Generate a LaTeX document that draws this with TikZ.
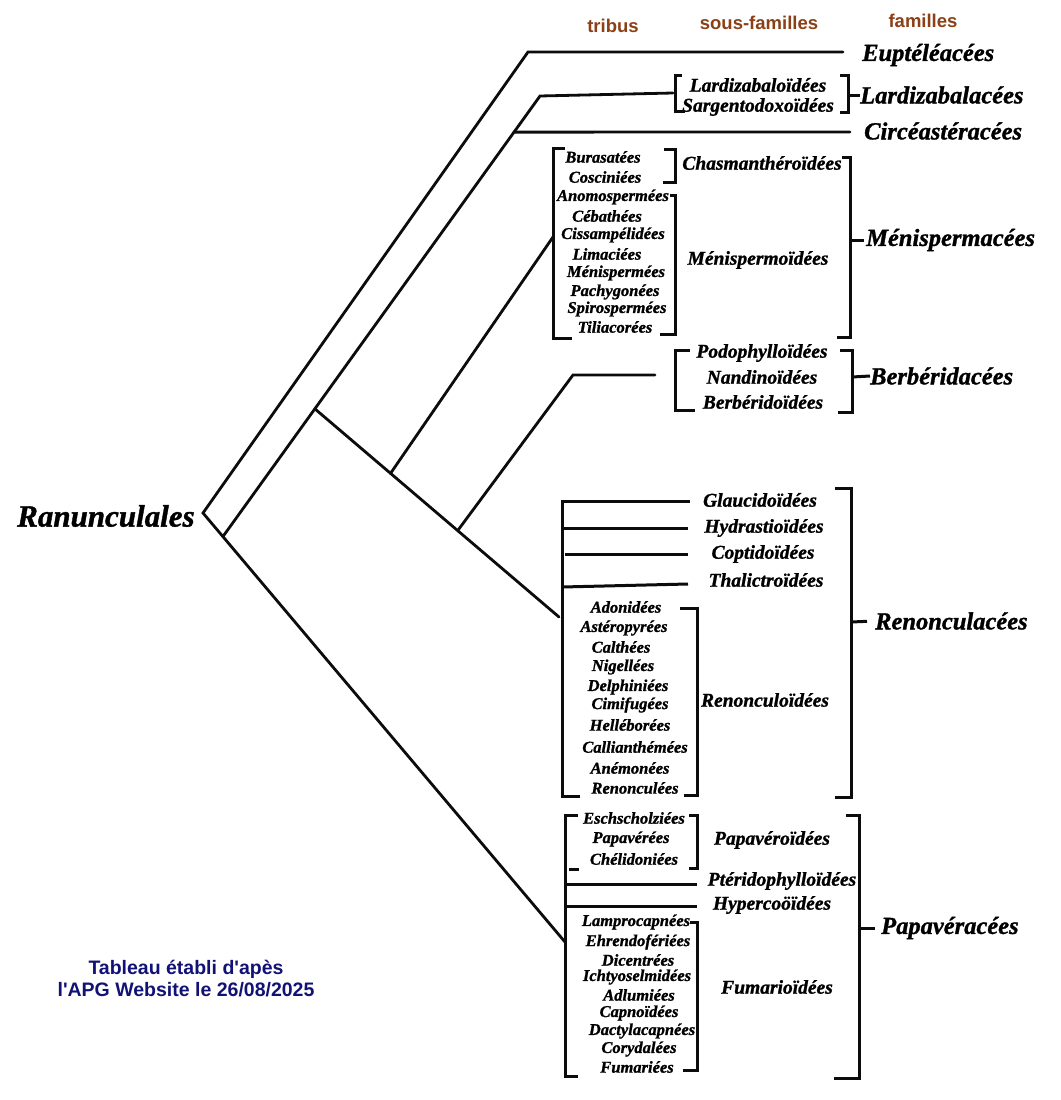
\documentclass[tikz,border=0pt]{standalone}
\usepackage{fontspec}
\setmainfont{Liberation Serif}[BoldItalicFeatures={FakeBold=1.2}]
\newfontfamily\labelsans{Liberation Sans}
\usetikzlibrary{positioning,calc}
\definecolor{inkBlack}{RGB}{12, 12, 12}
\definecolor{headBrown}{RGB}{139, 64, 22}
\definecolor{noteNavy}{RGB}{18, 18, 118}

\begin{document}
\begin{tikzpicture}[
      x=1pt, y=-1pt,
      branch/.style={line width=2.8pt, color=inkBlack, line cap=round},
      brk/.style={line width=3pt, color=inkBlack},
      order/.style={anchor=west, inner sep=0pt, font=\fontsize{31pt}{33pt}\selectfont\bfseries\itshape},
      fam/.style={anchor=west, inner sep=0pt, font=\fontsize{24.5pt}{26pt}\selectfont\bfseries\itshape},
      subfam/.style={inner sep=0pt, font=\fontsize{19.5pt}{21pt}\selectfont\bfseries\itshape},
      tribe/.style={inner sep=0pt, font=\fontsize{16.5pt}{18pt}\selectfont\bfseries\itshape},
      colhead/.style={inner sep=0pt, font=\fontsize{18.5pt}{20pt}\selectfont\labelsans\bfseries\color{headBrown}},
      note/.style={align=center, inner sep=0pt, font=\fontsize{19.5pt}{22pt}\selectfont\labelsans\bfseries\color{noteNavy}}
  ]
      \path[use as bounding box, fill=white] (0,0) rectangle (1060,1100);

      % COLUMN HEADS
      \node[colhead] (hTribus) at (613,26) {tribus};
      \node[colhead] (hSous) at (759,23) {sous-familles};
      \node[colhead] (hFam) at (923,21) {familles};

      % TREE
      \node[order] (ranun) at (17,516) {Ranunculales};
      \coordinate (root) at (203,513);
      \coordinate (kEupt) at (528,52);
      \coordinate (eEupt) at (843,52);
      \coordinate (kPapav) at (565,942);
      \coordinate (jA) at ($(root)!0.055!(kPapav)$);
      \coordinate (kLard) at (540,96);
      \coordinate (eLard) at (673,93);
      \coordinate (jCirc) at ($(jA)!0.918!(kLard)$);
      \coordinate (eCirc) at (850,132);
      \coordinate (jRest) at ($(jA)!0.29!(kLard)$);
      \coordinate (kRen) at (559,617);
      \coordinate (jMen) at ($(jRest)!0.31!(kRen)$);
      \coordinate (kMen) at (553,237);
      \coordinate (jBerb) at ($(jRest)!0.585!(kRen)$);
      \coordinate (kBerb) at (573,375);
      \coordinate (eBerb) at (655,375);

      \draw[branch] (eEupt) -- (kEupt) -- (root) -- (kPapav);
      \draw[branch] (jA) -- (kLard) -- (eLard);
      \draw[branch] (jCirc) -- (eCirc);
      \draw[branch] (jRest) -- (kRen);
      \draw[branch] (jMen) -- (kMen);
      \draw[branch] (jBerb) -- (kBerb) -- (eBerb);

      % EUPTELEACEES, LARDIZABALACEES, CIRCEASTERACEES
      \node[fam] (eupt) at (862,55) {Euptéléacées};
      \node[subfam] (lard1) at (758,85) {Lardizabaloïdées};
      \node[subfam] (lard2) at (758,107) {Sargentodoxoïdées};
      \node[fam] (lardf) at (860,95) {Lardizabalacées};
      \node[fam] (circf) at (864,131) {Circéastéracées};

      \draw[brk] (682,75) -- (675,75) -- (675,111) -- (685,111);
      \draw[brk] (840,75) -- (848,75) -- (848,112) -- (840,112);
      \draw[brk] (848,95) -- (lardf.west);

      % MENISPERMACEES
      \node[tribe] (bura) at (603,157) {Burasatées};
      \node[tribe] (cosc) at (605,177) {Cosciniées};
      \node[tribe] (anom) at (613,197) {Anomospermées};
      \node[tribe] (ceba) at (607,216) {Cébathées};
      \node[tribe] (ciss) at (613,235) {Cissampélidées};
      \node[tribe] (lima) at (607,254) {Limaciées};
      \node[tribe] (meni) at (616,273) {Ménispermées};
      \node[tribe] (pach) at (615,292) {Pachygonées};
      \node[tribe] (spir) at (617,309) {Spirospermées};
      \node[tribe] (tili) at (615,327) {Tiliacorées};
      \node[subfam] (chasm) at (762,163) {Chasmanthéroïdées};
      \node[subfam] (menis) at (758,260) {Ménispermoïdées};
      \node[fam] (menf) at (866,240) {Ménispermacées};

      \draw[brk] (565,148) -- (553,148) -- (553,338) -- (572,338);
      \draw[brk] (664,149) -- (675,149) -- (675,182) -- (663,182);
      \draw[brk] (670,195) -- (675,195) -- (675,334) -- (660,334);
      \draw[brk] (842,157) -- (850,157) -- (850,337) -- (837,337);
      \draw[brk, shorten >=2pt] (850,240) -- (menf.west);

      % BERBERIDACEES
      \node[subfam] (podo) at (762,353) {Podophylloïdées};
      \node[subfam] (nand) at (762,377) {Nandinoïdées};
      \node[subfam] (berbs) at (763,402) {Berbéridoïdées};
      \node[fam] (berbf) at (870,376) {Berbéridacées};

      \draw[brk] (690,350) -- (675,350) -- (675,410) -- (695,410);
      \draw[brk] (840,350) -- (852,350) -- (852,412) -- (838,412);
      \draw[brk] (852,377) -- (berbf.west);

      % RENONCULACEES
      \node[subfam] (glauc) at (760,500) {Glaucidoïdées};
      \node[subfam] (hydr) at (764,528) {Hydrastioïdées};
      \node[subfam] (copt) at (763,554) {Coptidoïdées};
      \node[subfam] (thal) at (766,580) {Thalictroïdées};
      \node[tribe] (adon) at (626,607) {Adonidées};
      \node[tribe] (aste) at (624,628) {Astéropyrées};
      \node[tribe] (calt) at (621,647) {Calthées};
      \node[tribe] (nige) at (623,667) {Nigellées};
      \node[tribe] (delp) at (628,687) {Delphiniées};
      \node[tribe] (cimi) at (630,705) {Cimifugées};
      \node[tribe] (hell) at (630,725) {Helléborées};
      \node[tribe] (call) at (635,747) {Callianthémées};
      \node[tribe] (anem) at (630,768) {Anémonées};
      \node[tribe] (reno) at (635,788) {Renonculées};
      \node[subfam] (renonc) at (765,700) {Renonculoïdées};
      \node[fam] (renf) at (875,621) {Renonculacées};

      \draw[brk] (690,501) -- (562,501) -- (562,796) -- (580,796);
      \draw[brk] (562,528) -- (688,528);
      \draw[brk] (565,554) -- (688,554);
      \draw[brk] (562,587) -- (688,584);
      \draw[brk] (680,608) -- (697,608) -- (697,795) -- (684,795);
      \draw[brk] (835,488) -- (851,488) -- (851,797) -- (835,797);
      \draw[brk, shorten >=8pt] (851,622) -- (renf.west);

      % PAPAVERACEES
      \node[tribe] (esch) at (634,818) {Eschscholziées};
      \node[tribe] (papt) at (631,839) {Papavérées};
      \node[tribe] (chel) at (634,859) {Chélidoniées};
      \node[subfam] (papav) at (772,840) {Papavéroïdées};
      \node[subfam] (pter) at (782,881) {Ptéridophylloïdées};
      \node[subfam] (hyper) at (772,905) {Hypercoöïdées};
      \node[tribe] (lamp) at (636,922) {Lamprocapnées};
      \node[tribe] (ehre) at (638,942) {Ehrendofériées};
      \node[tribe] (dice) at (638,960) {Dicentrées};
      \node[tribe] (icht) at (637,977) {Ichtyoselmidées};
      \node[tribe] (adlu) at (639,995) {Adlumiées};
      \node[tribe] (capn) at (639,1013) {Capnoïdées};
      \node[tribe] (dact) at (642,1031) {Dactylacapnées};
      \node[tribe] (cory) at (639,1049) {Corydalées};
      \node[tribe] (fuma) at (637,1067) {Fumariées};
      \node[subfam] (fumar) at (777,987) {Fumarioïdées};
      \node[fam] (papf) at (881,928) {Papavéracées};

      \draw[brk] (578,815) -- (565,815) -- (565,1076) -- (578,1076);
      \draw[brk] (569,869) -- (579,869);
      \draw[brk] (689,815) -- (697,815) -- (697,868) -- (689,868);
      \draw[brk] (565,884) -- (697,884);
      \draw[brk] (565,906) -- (697,906);
      \draw[brk] (690,922) -- (697,922) -- (697,1070) -- (683,1070);
      \draw[brk] (846,815) -- (859,815) -- (859,1078) -- (834,1078);
      \draw[brk, shorten >=6pt] (859,928) -- (papf.west);

      % SOURCE NOTE
      \node[note] (source) at (186,979) {Tableau établi d\textquotesingle apès\\l\textquotesingle APG Website le 26/08/2025};
  \end{tikzpicture}
\end{document}
